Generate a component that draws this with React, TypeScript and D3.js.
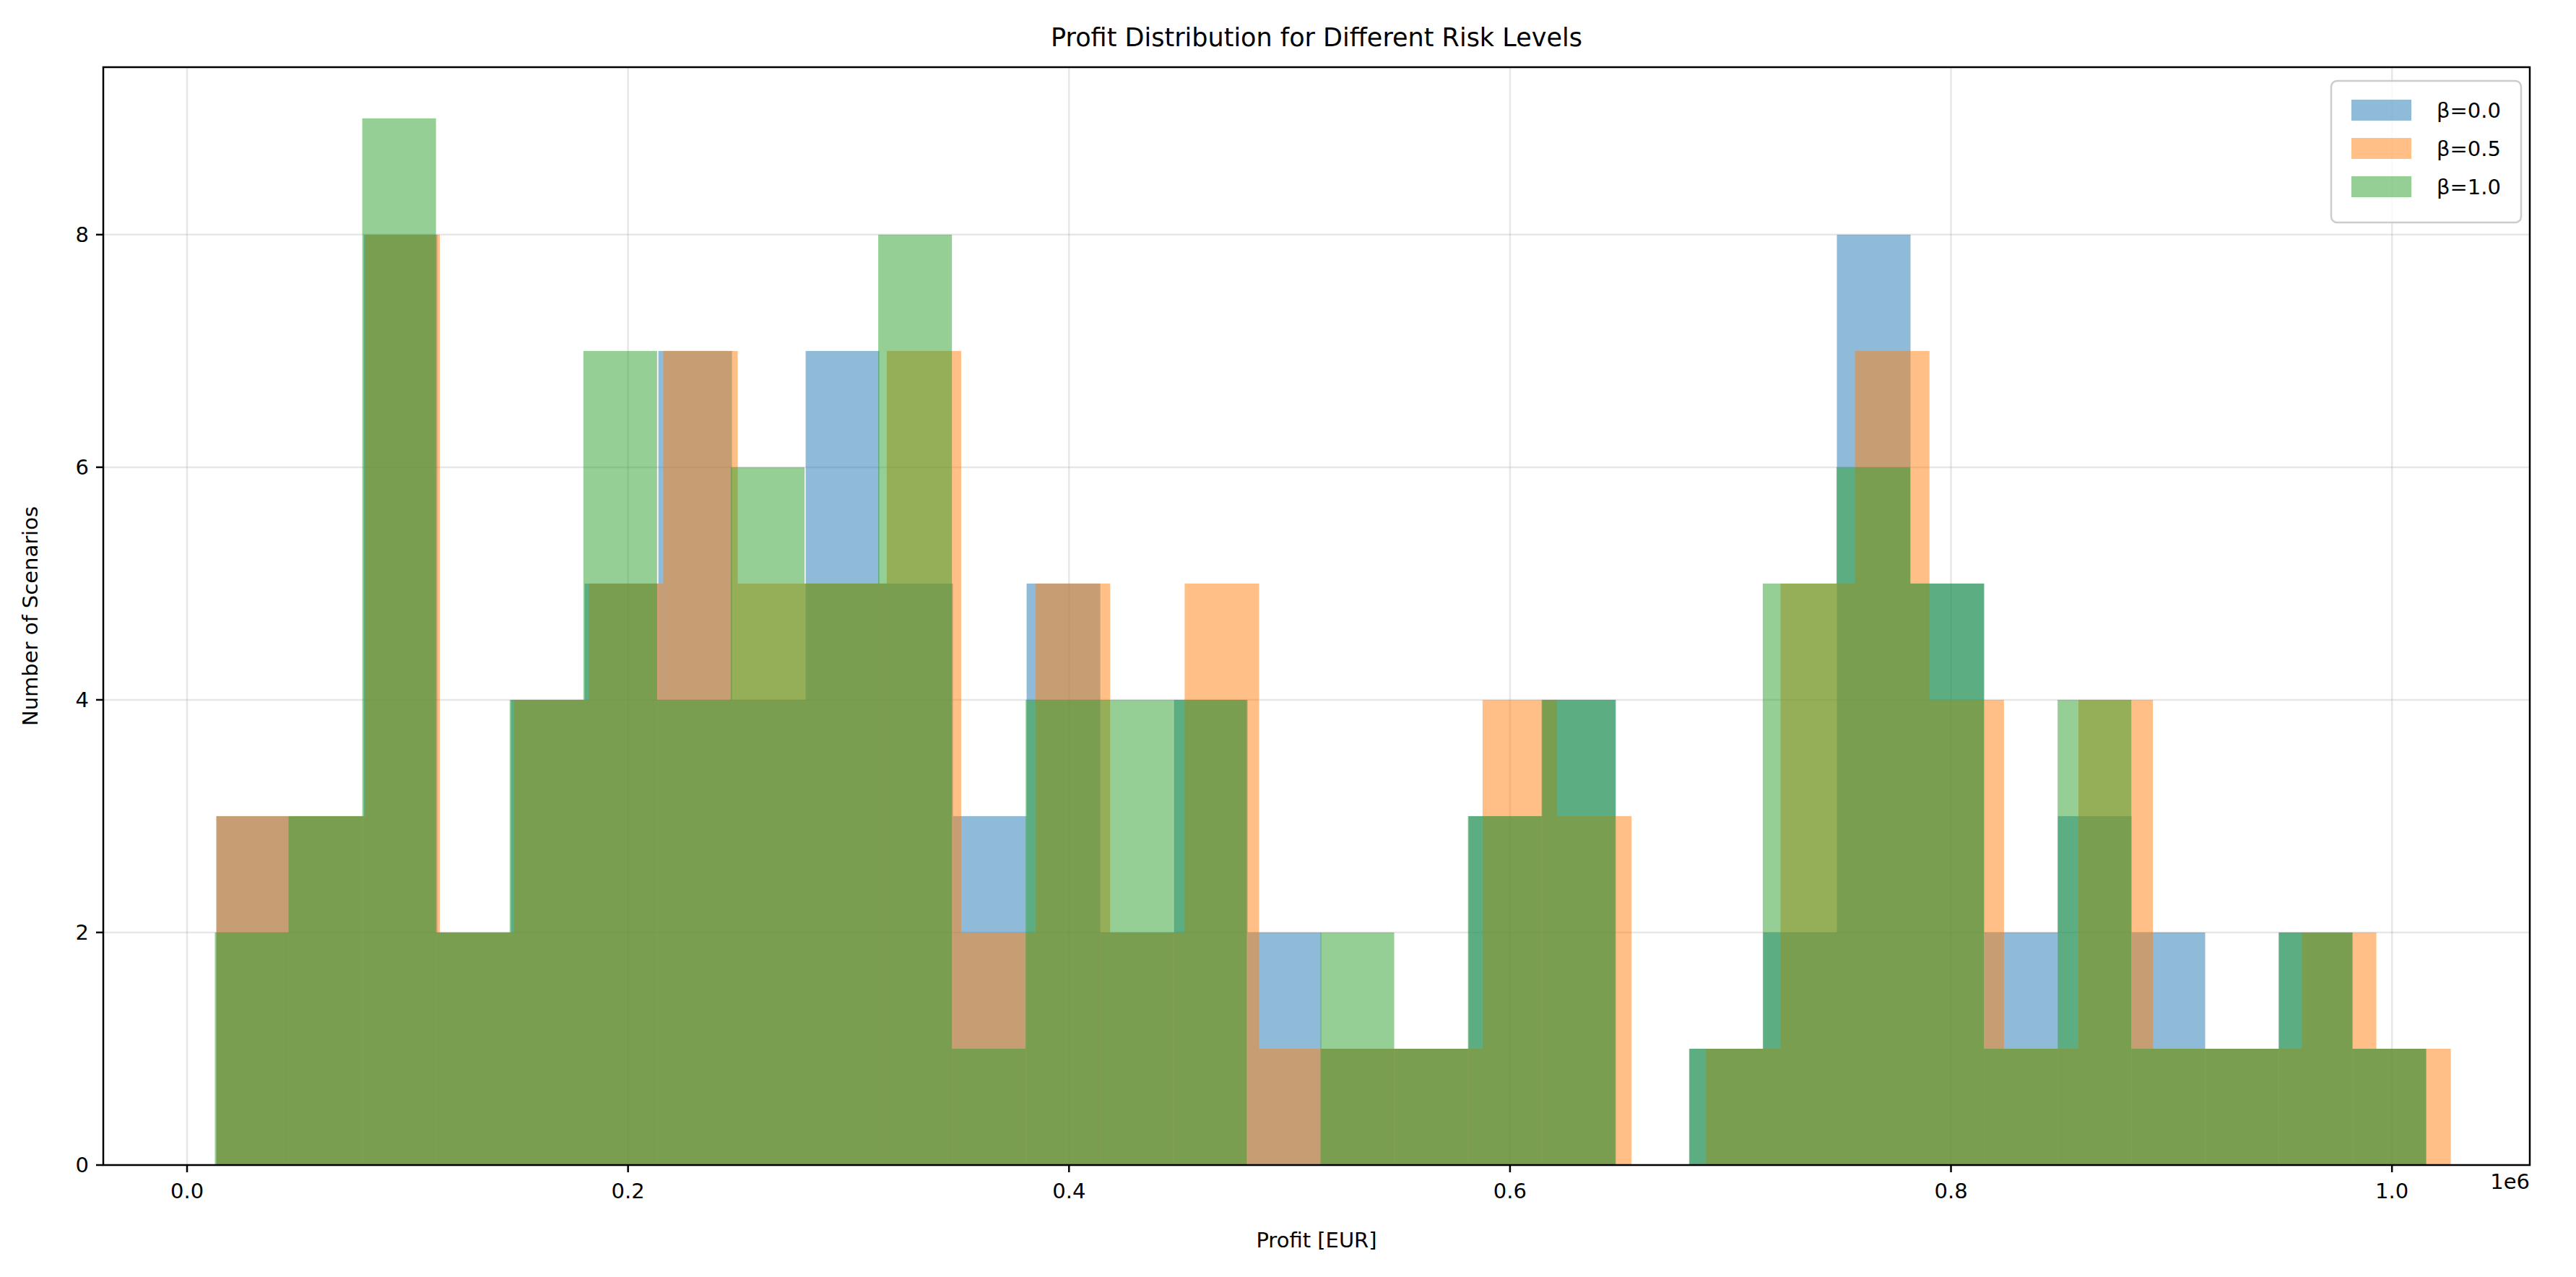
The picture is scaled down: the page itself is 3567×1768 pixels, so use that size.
import React from 'react';
import * as d3 from 'd3';

const seriesLabels = ['β=0.0', 'β=0.5', 'β=1.0'];
const seriesColors = ['#1f77b4', '#ff7f0e', '#2ca02c'];
// bin range per series (EUR), 30 bins each
const rangeBeta00 = [13300, 1015500];
const rangeBeta05 = [13300, 1026700];
const rangeBeta10 = [12600, 1015500];
const countsBeta00 = [3, 3, 8, 2, 4, 5, 7, 4, 7, 5, 3, 5, 2, 4, 2, 1, 1, 3, 4, 0, 1, 2, 8, 5, 2, 3, 2, 1, 2, 1];
const countsBeta05 = [3, 3, 8, 2, 4, 5, 7, 5, 5, 7, 2, 5, 2, 5, 1, 1, 1, 4, 3, 0, 1, 5, 7, 4, 1, 4, 1, 1, 2, 1];
const countsBeta10 = [2, 3, 9, 2, 4, 7, 4, 6, 5, 8, 1, 4, 4, 4, 0, 2, 1, 3, 4, 0, 1, 5, 6, 5, 1, 4, 1, 1, 2, 1];
const xTicks = [0, 0.2e6, 0.4e6, 0.6e6, 0.8e6, 1.0e6];
const yTicks = [0, 2, 4, 6, 8];

const ranges = [rangeBeta00, rangeBeta05, rangeBeta10];
const counts = [countsBeta00, countsBeta05, countsBeta10];

const W = 3567;
const H = 1768;
const left = 143;
const right = 3503;
const top = 93;
const bottom = 1613;
const font = 'DejaVu Sans, sans-serif';

export default function App() {
  const x = d3.scaleLinear().domain([-38000, 1062500]).range([left, right]);
  const y = d3.scaleLinear().domain([0, 9.44]).range([bottom, top]);

  const bars = counts.map((c, s) => {
    const [lo, hi] = ranges[s];
    const w = (hi - lo) / c.length;
    return c.map((v, i) => ({ x0: lo + i * w, x1: lo + (i + 1) * w, v }));
  });

  return (
    <div style={{ position: 'fixed', left: 0, top: 0 }}>
      <svg width={W} height={H} style={{ display: 'block', background: '#fff' }}>
        {/* grid */}
        {xTicks.map((t) => (
          <line key={'gx' + t} x1={x(t)} x2={x(t)} y1={top} y2={bottom} stroke="#b0b0b0" strokeOpacity={0.3} strokeWidth={2.5} />
        ))}
        {yTicks.map((t) => (
          <line key={'gy' + t} x1={left} x2={right} y1={y(t)} y2={y(t)} stroke="#b0b0b0" strokeOpacity={0.3} strokeWidth={2.5} />
        ))}
        {bars.map((b, s) =>
          b.map((d, i) =>
            d.v > 0 ? (
              <rect key={s + '-' + i} x={x(d.x0)} y={y(d.v)} width={x(d.x1) - x(d.x0)} height={y(0) - y(d.v)} fill={seriesColors[s]} fillOpacity={0.5} />
            ) : null
          )
        )}
        <rect x={left} y={top} width={right - left} height={bottom - top} fill="none" stroke="#000" strokeWidth={2.5} />
        {xTicks.map((t) => (
          <g key={'tx' + t} transform={`translate(${x(t)},${bottom})`}>
            <line y2={10} stroke="#000" strokeWidth={2.5} />
            <text y={46} textAnchor="middle" fontFamily={font} fontSize={29}>{(t / 1e6).toFixed(1)}</text>
          </g>
        ))}
        {yTicks.map((t) => (
          <g key={'ty' + t} transform={`translate(${left},${y(t)})`}>
            <line x2={-10} stroke="#000" strokeWidth={2.5} />
            <text x={-20} dy="0.35em" textAnchor="end" fontFamily={font} fontSize={29}>{t}</text>
          </g>
        ))}
        <text x={right} y={1646} textAnchor="end" fontFamily={font} fontSize={29}>1e6</text>
        <text x={(left + right) / 2} y={1727} textAnchor="middle" fontFamily={font} fontSize={29}>Profit [EUR]</text>
        <text transform={`translate(52,${(top + bottom) / 2}) rotate(-90)`} textAnchor="middle" fontFamily={font} fontSize={29}>Number of Scenarios</text>
        <text x={(left + right) / 2} y={64} textAnchor="middle" fontFamily={font} fontSize={35}>Profit Distribution for Different Risk Levels</text>
        {/* legend */}
        <rect x={3228} y={112} width={263} height={196} rx={8} fill="#fff" fillOpacity={0.8} stroke="#cccccc" strokeWidth={2.5} />
        {seriesLabels.map((l, i) => (
          <g key={l} transform={`translate(3256,${148 + i * 53})`}>
            <rect x={0} y={-10} width={83} height={29} fill={seriesColors[i]} fillOpacity={0.5} />
            <text x={118} y={5} dy="0.35em" fontFamily={font} fontSize={29}>{l}</text>
          </g>
        ))}
      </svg>
    </div>
  );
}
